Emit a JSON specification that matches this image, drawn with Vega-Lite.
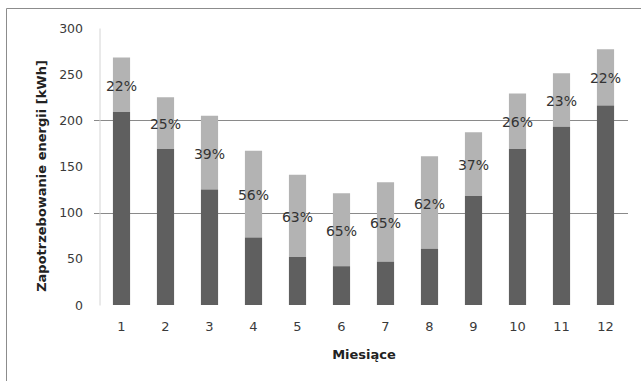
{
  "$schema": "https://vega.github.io/schema/vega-lite/v6.json",
  "width": 636,
  "height": 374,
  "autosize": {"type": "none"},
  "padding": {"left": 6, "top": 8, "right": 0, "bottom": 0},
  "background": "white",
  "config": {
    "view": {"stroke": "#8c8c8c", "strokeWidth": 1},
    "font": "DejaVu Sans"
  },
  "data": {
    "values": [
      {"month": "1", "total": 268, "dark": 209, "pct": "22%"},
      {"month": "2", "total": 225, "dark": 169, "pct": "25%"},
      {"month": "3", "total": 205, "dark": 125, "pct": "39%"},
      {"month": "4", "total": 167, "dark": 73, "pct": "56%"},
      {"month": "5", "total": 141, "dark": 52, "pct": "63%"},
      {"month": "6", "total": 121, "dark": 42, "pct": "65%"},
      {"month": "7", "total": 133, "dark": 47, "pct": "65%"},
      {"month": "8", "total": 161, "dark": 61, "pct": "62%"},
      {"month": "9", "total": 187, "dark": 118, "pct": "37%"},
      {"month": "10", "total": 229, "dark": 169, "pct": "26%"},
      {"month": "11", "total": 251, "dark": 193, "pct": "23%"},
      {"month": "12", "total": 277, "dark": 216, "pct": "22%"}
    ]
  },
  "encoding": {
    "x": {
      "field": "month",
      "type": "ordinal",
      "sort": null,
      "scale": {"range": [93.5, 621.5], "paddingInner": 0.61, "paddingOuter": 0.305},
      "axis": {
        "orient": "bottom",
        "offset": -77,
        "domain": false,
        "ticks": false,
        "labelAngle": 0,
        "labelPadding": 15,
        "labelFontSize": 13,
        "labelColor": "#3a3a3a",
        "title": "Miesiące",
        "titlePadding": 15,
        "titleFontSize": 13,
        "titleFontWeight": "bold",
        "titleColor": "#222222"
      }
    }
  },
  "layer": [
    {
      "mark": {"type": "bar", "color": "#b3b3b3"},
      "encoding": {
        "y": {
          "field": "total",
          "type": "quantitative",
          "scale": {"domain": [0, 300], "range": [297, 20], "nice": false, "zero": true},
          "axis": {
            "orient": "left",
            "offset": -93.5,
            "values": [0, 50, 100, 150, 200, 250, 300],
            "domainColor": "#d4d4d4",
            "ticks": true,
            "tickSize": 6,
            "tickColor": "#8a8a8a",
            "tickOpacity": {"condition": {"test": "datum.value == 100 || datum.value == 200", "value": 1}, "value": 0},
            "grid": true,
            "gridColor": "#8a8a8a",
            "gridOpacity": {"condition": {"test": "datum.value == 100 || datum.value == 200", "value": 1}, "value": 0},
            "labelPadding": 11,
            "labelFontSize": 12.5,
            "labelColor": "#3a3a3a",
            "title": "Zapotrzebowanie energii [kWh]",
            "titleFontSize": 13,
            "titleFontWeight": "bold",
            "titleColor": "#222222",
            "titleX": -51.5,
            "titleY": 167.5
          }
        },
        "y2": {"field": "dark"}
      }
    },
    {
      "mark": {"type": "bar", "color": "#5f5f5f"},
      "encoding": {
        "y": {"field": "dark", "type": "quantitative"}
      }
    },
    {
      "transform": [{"calculate": "(datum.total + datum.dark) / 2", "as": "mid"}],
      "mark": {"type": "text", "fontSize": 14, "color": "#333333", "baseline": "middle", "align": "center", "dy": 2},
      "encoding": {
        "y": {"field": "mid", "type": "quantitative"},
        "text": {"field": "pct"}
      }
    }
  ]
}
